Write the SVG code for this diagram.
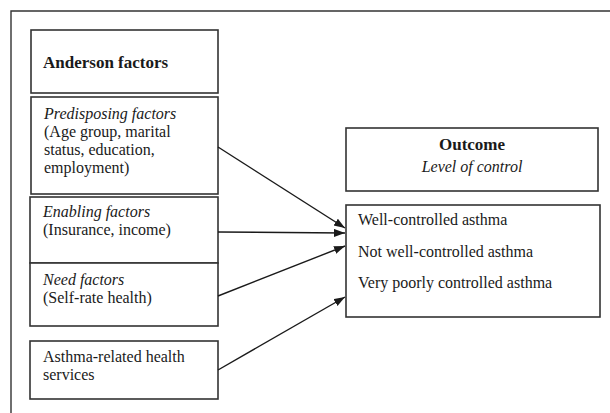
<svg xmlns="http://www.w3.org/2000/svg" width="610" height="413" viewBox="0 0 610 413" font-family="'Liberation Serif', 'DejaVu Serif', serif">
<style>
.box{fill:#fff;stroke:#333;stroke-width:1.6}
.t{font-family:'Liberation Serif','DejaVu Serif',serif;font-size:16px;fill:#1a1a1a}
.b{font-weight:bold;font-size:17px}
.i{font-style:italic}
.c{stroke:#1a1a1a;stroke-width:1.4;fill:none}
</style>
<defs>
<marker id="ah" markerUnits="userSpaceOnUse" markerWidth="12" markerHeight="10" refX="11" refY="4" orient="auto">
<path d="M0,0 L11,4 L0,8 Z" fill="#1a1a1a"/>
</marker>
</defs>
<rect width="610" height="413" fill="#fff"/>
<path d="M11,413 V11 H610" fill="none" stroke="#333" stroke-width="1.4"/>
<g id="anderson">
<rect class="box" x="31" y="30" width="187" height="63"/>
<text class="t b" x="43" y="68">Anderson factors</text>
</g>
<g id="predisposing">
<rect class="box" x="31" y="97" width="187" height="97"/>
<text class="t" x="44" y="119"><tspan class="i">Predisposing factors</tspan><tspan x="44" y="137">(Age group, marital</tspan><tspan x="44" y="155">status, education,</tspan><tspan x="44" y="173">employment)</tspan></text>
</g>
<g id="enabling">
<rect class="box" x="30" y="197" width="188" height="66"/>
<text class="t" x="43" y="217"><tspan class="i">Enabling factors</tspan><tspan x="43" y="235">(Insurance, income)</tspan></text>
</g>
<g id="need">
<rect class="box" x="30" y="263" width="188" height="63"/>
<text class="t" x="43" y="285"><tspan class="i">Need factors</tspan><tspan x="43" y="303">(Self-rate health)</tspan></text>
</g>
<g id="services">
<rect class="box" x="30" y="341" width="188" height="58"/>
<text class="t" x="43" y="362">Asthma-related health<tspan x="43" y="380">services</tspan></text>
</g>
<g id="outcome">
<rect class="box" x="346" y="128" width="252" height="63"/>
<text class="t b" x="472" y="150" text-anchor="middle">Outcome</text>
<text class="t i" x="472" y="172" text-anchor="middle">Level of control</text>
</g>
<g id="levels">
<rect class="box" x="346" y="205" width="254" height="112"/>
<text class="t" x="358" y="225">Well-controlled asthma</text>
<text class="t" x="358" y="257">Not well-controlled asthma</text>
<text class="t" x="358" y="288">Very poorly controlled asthma</text>
</g>
<g id="connectors">
<line class="c" x1="218" y1="147" x2="345" y2="228" marker-end="url(#ah)"/>
<line class="c" x1="218" y1="232" x2="345" y2="233" marker-end="url(#ah)"/>
<line class="c" x1="218" y1="296" x2="345" y2="246" marker-end="url(#ah)"/>
<line class="c" x1="218" y1="370" x2="345" y2="297" marker-end="url(#ah)"/>
</g>
</svg>
